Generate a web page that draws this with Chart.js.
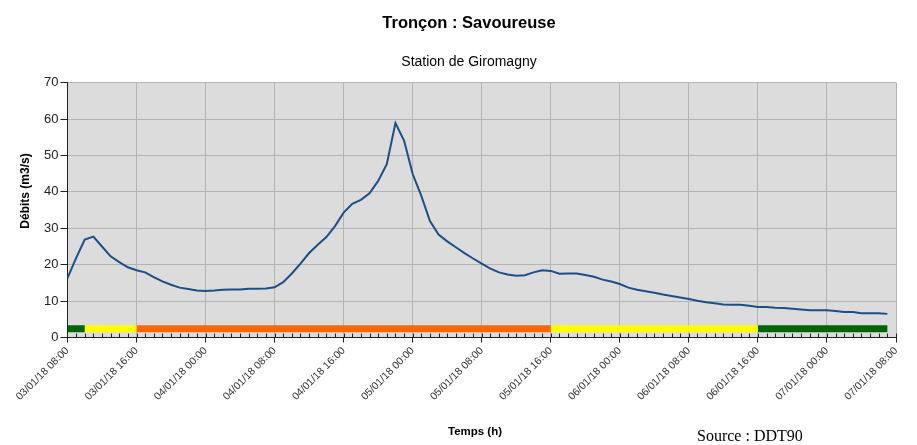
<!DOCTYPE html>
<html>
<head>
<meta charset="utf-8">
<script src="https://cdn.jsdelivr.net/npm/chart.js@4"></script>
<style>
  body { margin: 0; background: #fff; }
  #wrap { position: relative; width: 917px; height: 445px; }
  #source { position: absolute; left: 697px; top: 427px; font: 16px "Liberation Serif", serif; color: #000; }
</style>
</head>
<body>
<div id="wrap">
  <canvas id="flowChart" width="917" height="445"></canvas>
  <div id="source">Source : DDT90</div>
</div>
<script>
// hourly readings from 03/01/18 08:00 (hour 0)
const flow = [
  16.3, 21.8, 26.9, 27.7, 25.0, 22.3, 20.7, 19.3, 18.5, 17.9,
  16.6, 15.4, 14.5, 13.7, 13.3, 12.9, 12.8, 12.9, 13.1, 13.2,
  13.2, 13.4, 13.4, 13.5, 13.8, 15.2, 17.6, 20.3, 23.2, 25.5,
  27.6, 30.6, 34.3, 36.7, 37.8, 39.6, 43.0, 47.6, 58.9, 54.1,
  44.9, 38.9, 32.0, 28.3, 26.4, 24.8, 23.2, 21.7, 20.3, 18.9,
  17.9, 17.3, 17.0, 17.1, 17.9, 18.5, 18.3, 17.5, 17.6, 17.6,
  17.2, 16.7, 15.9, 15.4, 14.7, 13.7, 13.1, 12.7, 12.3, 11.8,
  11.4, 11.0, 10.6, 10.1, 9.7, 9.4, 9.1, 9.0, 9.0, 8.7,
  8.4, 8.4, 8.2, 8.1, 7.9, 7.7, 7.5, 7.5, 7.5, 7.3,
  7.0, 7.0, 6.7, 6.7, 6.7, 6.5
];

const xLabels = [
  "03/01/18 08:00", "03/01/18 16:00", "04/01/18 00:00", "04/01/18 08:00",
  "04/01/18 16:00", "05/01/18 00:00", "05/01/18 08:00", "05/01/18 16:00",
  "06/01/18 00:00", "06/01/18 08:00", "06/01/18 16:00", "07/01/18 00:00",
  "07/01/18 08:00"
];

// vigilance band (hours from start)
const bandStart = [0, 2, 8, 56, 80];
const bandEnd = [2, 8, 56, 80, 95];
const bandColors = ["#006400", "#ffff00", "#ff6600", "#ffff00", "#006400"];
const bandLevel = 2.4;

const yTitle = "Débits (m3/s)";
const xTitle = "Temps (h)";

const bandSets = bandStart.map((s, i) => ({
    data: [{x: s, y: bandLevel}, {x: bandEnd[i], y: bandLevel}],
    borderColor: bandColors[i],
    borderWidth: 7,
    borderCapStyle: "butt",
    pointRadius: 0,
    order: 2
}));

const plotBg = {
    id: "plotBg",
    beforeDraw(chart) {
        const a = chart.chartArea, c = chart.ctx;
        c.save();
        c.fillStyle = "#dcdcdc";
        c.fillRect(a.left, a.top, a.right - a.left, a.bottom - a.top);
        c.restore();
    }
};

// hourly minor ticks + axis titles (placed a bit off-centre like the original)
const extras = {
    id: "extras",
    afterDraw(chart) {
        const x = chart.scales.x, c = chart.ctx, a = chart.chartArea;
        c.save();
        c.strokeStyle = "#222";
        c.lineWidth = 1;
        for (let h = 0; h <= 96; h++) {
            const px = Math.round(x.getPixelForValue(h)) + 0.5;
            c.beginPath();
            c.moveTo(px, a.bottom - 4);
            c.lineTo(px, a.bottom);
            c.stroke();
        }
        c.fillStyle = "#000";
        c.textAlign = "center";
        c.textBaseline = "middle";
        c.font = "bold 11.5px 'Liberation Sans'";
        c.fillText(xTitle, 475, 432);
        c.font = "bold 12px 'Liberation Sans'";
        c.translate(26, 191);
        c.rotate(-Math.PI / 2);
        c.fillText(yTitle, 0, 0);
        c.restore();
    }
};

const ctx = document.getElementById("flowChart").getContext("2d");
new Chart(ctx, {
    type: "line",
    data: {
        datasets: [
            {
                data: flow.map((v, i) => ({x: i, y: v})),
                borderColor: "#1b4f86",
                borderWidth: 2,
                pointRadius: 0,
                tension: 0,
                order: 1
            },
            ...bandSets
        ]
    },
    options: {
        responsive: false,
        animation: false,
        layout: { padding: { left: 42, right: 21, top: 0, bottom: 40 } },
        plugins: {
            legend: { display: false },
            tooltip: { enabled: false },
            title: {
                display: true,
                text: "Tronçon : Savoureuse",
                color: "#000",
                font: { family: "Liberation Sans", size: 16.5, weight: "bold" },
                padding: { top: 14, bottom: 20 }
            },
            subtitle: {
                display: true,
                text: "Station de Giromagny",
                color: "#000",
                font: { family: "Liberation Sans", size: 14 },
                padding: { top: 0, bottom: 12 }
            }
        },
        scales: {
            x: {
                type: "linear",
                min: 0,
                max: 96,
                ticks: {
                    stepSize: 8,
                    autoSkip: false,
                    minRotation: 45,
                    maxRotation: 45,
                    padding: 2,
                    color: "#333",
                    font: { family: "Liberation Sans", size: 10.5 },
                    callback: v => xLabels[v / 8]
                },
                grid: { color: "#b4b4b4", tickColor: "#222", tickLength: 5 },
                border: { color: "#222" }
            },
            y: {
                min: 0,
                max: 70,
                ticks: {
                    stepSize: 10,
                    padding: 2,
                    color: "#222",
                    font: { family: "Liberation Sans", size: 13 }
                },
                grid: { color: "#b4b4b4", tickColor: "#222", tickLength: 7 },
                border: { color: "#222" }
            }
        }
    },
    plugins: [plotBg, extras]
});
</script>
</body>
</html>
